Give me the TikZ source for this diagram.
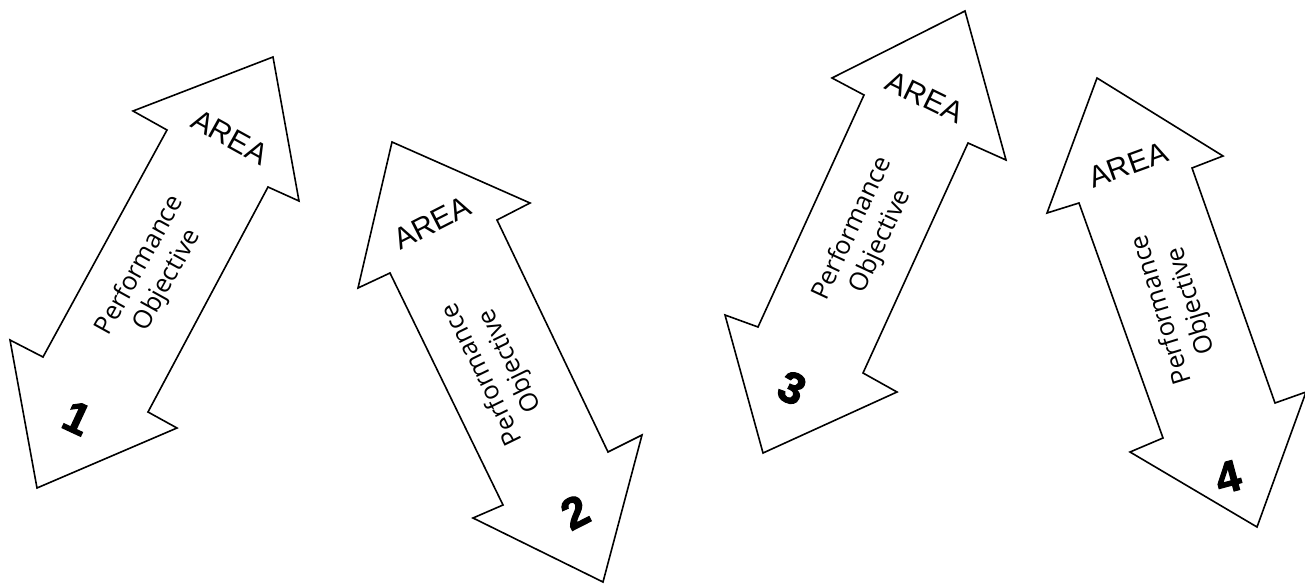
\documentclass[tikz,border=0pt]{standalone}
\usepackage{fontspec}
\setmainfont{Liberation Sans}
\newfontfamily\objfont{Open Sans}
\newfontfamily\heavyfont[FakeBold=2.5]{Liberation Sans Bold}
\begin{document}
\begin{tikzpicture}[x=1pt,y=-1pt]
\tikzset{
  dblarrow/.style={draw=black, line width=1.6pt, line join=miter, fill=white},
  objtext/.style={font=\fontsize{25.5}{31}\objfont, align=center, inner sep=0pt},
  areatext/.style={font=\fontsize{30}{30}\selectfont, inner sep=0pt},
  numtext/.style={font=\fontsize{44}{44}\heavyfont, inner sep=0pt},
}
\useasboundingbox (0,0) rectangle (1305,583);
\clip (0,0) rectangle (1305,583);

% Area 1
\draw[dblarrow] (273,57) -- (299,201) -- (268,187) -- (148,412) -- (177,428)
  -- (37,488) -- (10,340) -- (43,357) -- (167,130) -- (133,111) -- cycle;
\node[areatext, rotate=-29] (area1) at (230,137) {AREA};
\node[objtext, rotate=61] (obj1) at (154,273) {Performance\\Objective};
\node[numtext, rotate=-25] (num1) at (77,418) {1};

% Area 2
\draw[dblarrow] (392,142) -- (530,203) -- (497,220) -- (608,452) -- (642,435)
  -- (603,582) -- (473,518) -- (503,505) -- (390,273) -- (358,288) -- cycle;
\node[areatext, rotate=27] (area2) at (432,223) {AREA};
\node[objtext, rotate=116] (obj2) at (497,367) {Performance\\Objective};
\node[numtext, rotate=27] (num2) at (575,512) {2};

% Area 3
\draw[dblarrow] (965,11) -- (1006,160) -- (968,143) -- (863,373) -- (897,392)
  -- (763,453) -- (725,315) -- (758,327) -- (864,95) -- (832,78) -- cycle;
\node[areatext, rotate=-26] (area3) at (925,97) {AREA};
\node[objtext, rotate=65] (obj3) at (867,235) {Performance\\Objective};
\node[numtext, rotate=-25] (num3) at (792,388) {3};

% Area 4
\draw[dblarrow] (1097,78) -- (1223,156) -- (1192,168) -- (1275,403) -- (1306,392)
  -- (1257,527) -- (1130,452) -- (1163,438) -- (1079,203) -- (1047,213) -- cycle;
\node[areatext, rotate=20] (area4) at (1128,165) {AREA};
\node[objtext, rotate=107] (obj4) at (1177,305) {Performance\\Objective};
\node[numtext, rotate=15] (num4) at (1228,477) {4};
\end{tikzpicture}
\end{document}
